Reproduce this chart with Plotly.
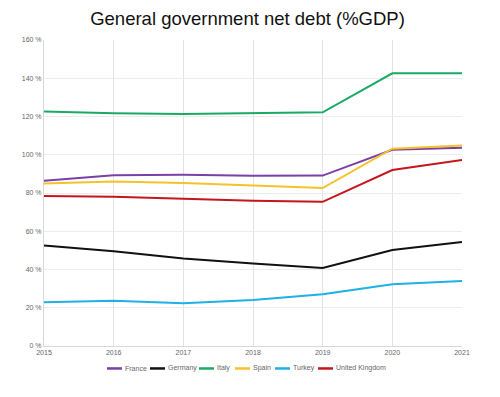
import plotly.graph_objects as go

years = [2015, 2016, 2017, 2018, 2019, 2020, 2021]
france = [86.4, 89.3, 89.5, 89.0, 89.1, 102.6, 103.6]
germany = [52.6, 49.5, 45.8, 43.1, 40.8, 50.2, 54.4]
italy = [122.6, 121.7, 121.3, 121.8, 122.2, 142.6, 142.6]
spain = [85.0, 86.0, 85.2, 83.8, 82.6, 103.2, 104.8]
turkey = [22.9, 23.6, 22.4, 24.1, 27.0, 32.3, 34.0]
uk = [78.4, 78.0, 77.0, 76.0, 75.4, 92.0, 97.3]

names = ["France", "Germany", "Italy", "Spain", "Turkey", "United Kingdom"]
colors = ["#7b3fa8", "#111111", "#1aaa64", "#f5c22c", "#1eb0e6", "#c4161c"]
values = [france, germany, italy, spain, turkey, uk]

OFF = 8  # page body margin
W, H = 500 - OFF, 397 - OFF
ML, MR, MT, MB = 44 - OFF, 38, 40 - OFF, 50.5

fig = go.Figure()
for name, vals, col in zip(names, values, colors):
    fig.add_trace(go.Scatter(x=years, y=vals, name=name, mode="lines",
                             line=dict(color=col, width=2)))

# Manual legend (compact, like the reference)
legend_x = [107, 150, 199, 235, 275, 318]  # page pixel of each swatch
legend_y = 369
sw = 15
pw = W - ML - MR
ph = H - MT - MB
for name, col, lx in zip(names, colors, legend_x):
    fx = lx - OFF
    x0 = (fx - ML) / pw
    x1 = (fx + sw - ML) / pw
    yy = (H - MB - (legend_y - OFF)) / ph
    fig.add_shape(type="line", xref="paper", yref="paper", x0=x0, x1=x1, y0=yy, y1=yy,
                  line=dict(color=col, width=2.5))
    fig.add_annotation(xref="paper", yref="paper", x=x1, y=yy, text=name,
                       showarrow=False, xanchor="left", yanchor="middle", xshift=1,
                       font=dict(size=7, color="#666666"))

fig.update_layout(
    width=W, height=H,
    paper_bgcolor="white", plot_bgcolor="white",
    margin=dict(l=ML, r=MR, t=MT, b=MB),
    title=dict(text="General government net debt (%GDP)", xref="container",
               x=(247.5 - OFF) / W, xanchor="center",
               y=1 - (19 - OFF) / H, yanchor="middle",
               font=dict(family="Liberation Sans, Arial", size=18.5, color="#111111")),
    font=dict(family="Liberation Sans, Arial", size=7, color="#666666"),
    showlegend=False,
    xaxis=dict(range=[2015, 2021], tickvals=years, ticktext=[str(y) for y in years],
               showgrid=True, gridcolor="#e2e2e2", gridwidth=1, zeroline=False,
               showline=True, linecolor="#d8d8d8", ticks="", fixedrange=True),
    yaxis=dict(range=[0, 160], tickvals=[0, 20, 40, 60, 80, 100, 120, 140, 160],
               ticktext=["0 %", "20 %", "40 %", "60 %", "80 %", "100 %", "120 %", "140 %", "160 %"],
               showgrid=True, gridcolor="#ececec", gridwidth=1, zeroline=False,
               showline=True, linecolor="#d8d8d8", ticks="", fixedrange=True),
)

fig.write_html("out.html")
